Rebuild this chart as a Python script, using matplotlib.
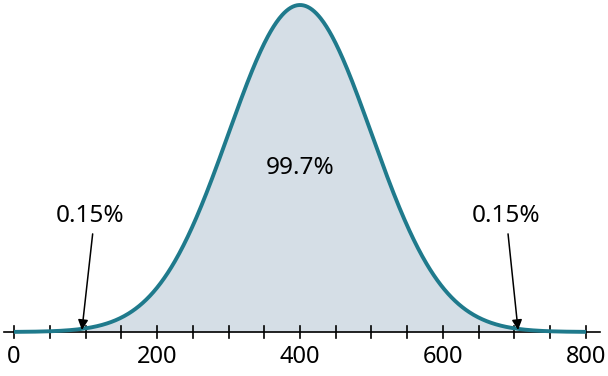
import numpy as np
import matplotlib.pyplot as plt

plt.rcParams['font.family'] = ['Noto Sans', 'DejaVu Sans']

# distribution parameters
mean = 400
sd = 100
x_min, x_max = 0, 800
shade_lo, shade_hi = 100, 700
tick_minor = np.arange(0, 801, 50)
tick_major = [0, 200, 400, 600, 800]
inner_label = "99.7%"
tail_label = "0.15%"

curve_color = "#1f7a8c"
fill_color = "#d5dee6"

x = np.linspace(x_min, x_max, 801)
y = np.exp(-0.5 * ((x - mean) / sd) ** 2)

fig = plt.figure(figsize=(6.08, 3.76), dpi=100)
ax = fig.add_axes([0, 0, 1, 1])
ax.set_xlim(-19.6, 830.8)
ax.set_ylim(-0.1346, 1.0153)
ax.axis("off")

mask = (x >= shade_lo) & (x <= shade_hi)
ax.fill_between(x[mask], 0, y[mask], color=fill_color, lw=0)

# axis line and ticks
ax.plot([-14, 820], [0, 0], color="black", lw=1.2, zorder=2)
for t in tick_minor:
    ax.plot([t, t], [-0.018, 0.018], color="black", lw=1.2, zorder=2)
for t in tick_major:
    ax.text(t, -0.04, str(t), ha="center", va="top", fontsize=17)

ax.plot(x, y, color=curve_color, lw=2.8, zorder=3, solid_capstyle="butt")

ax.text(mean, 0.5, inner_label, ha="center", va="center", fontsize=17.5)

# tail labels with arrows
ax.text(106, 0.318, tail_label, ha="center", va="bottom", fontsize=17.5)
ax.text(688, 0.318, tail_label, ha="center", va="bottom", fontsize=17.5)
arrow = dict(arrowstyle="-|>", color="black", lw=1.1, mutation_scale=15,
             shrinkA=0, shrinkB=0)
ax.annotate("", xy=(95, 0.006), xytext=(110, 0.3), arrowprops=arrow)
ax.annotate("", xy=(705, 0.006), xytext=(691, 0.3), arrowprops=arrow)

fig.savefig("out.png", dpi=100)
